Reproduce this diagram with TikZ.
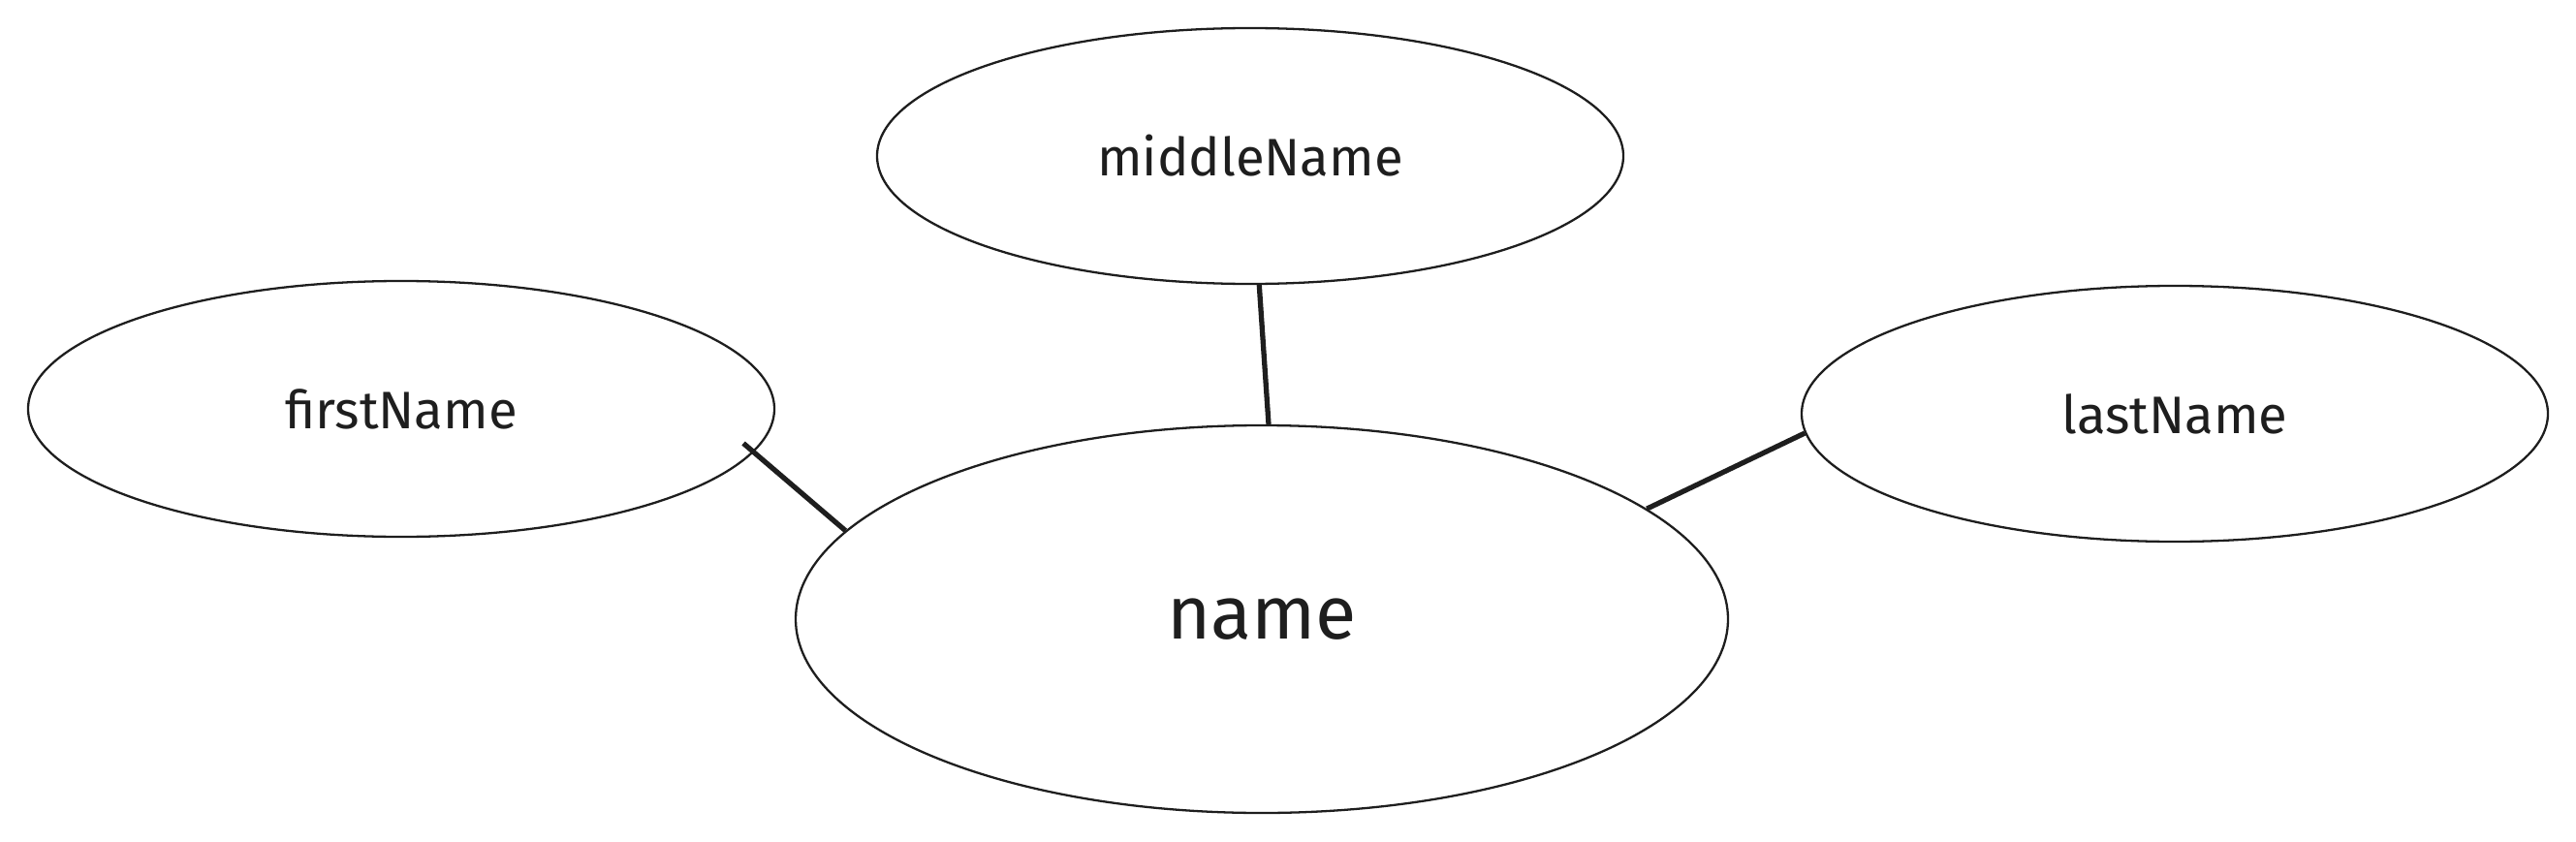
\documentclass[tikz,border=0pt]{standalone}
\usepackage{fontspec}
\setmainfont{Fira Sans}
\usepackage{xcolor}
\usepackage{tikz}
\usetikzlibrary{shapes.geometric}
\definecolor{ink}{HTML}{1E1E1E}

\begin{document}
\begin{tikzpicture}

                % Styles of the attribute ellipses
                \tikzset{
                    attr/.style={ellipse, draw=ink, line width=0.65pt,
                        inner sep=0pt, minimum width=7.7cm,
                        minimum height=2.64cm, text=ink,
                        font=\fontsize{15.5}{18}\selectfont},
                    entity/.style={attr, minimum width=9.62cm,
                        minimum height=4cm,
                        font=\fontsize{22}{26}\selectfont}
                }

                \useasboundingbox (0, 0) rectangle (26.58, 8.68);

                \node[entity] (name) at (13.02, 2.29) {name};
                \node[attr] (middleName) at (12.90, 7.07) {middleName};
                \node[attr] (firstName) at (4.14, 4.46) {firstName};
                \node[attr] (lastName) at (22.44, 4.41) {lastName};

                \begin{scope}[draw=ink, line width=1.5pt]
                    \draw[shorten <=-4pt] (firstName.-7) -- (name.168);
                    \draw (middleName.-86) -- (name.88.5);
                    \draw (lastName.183) -- (name.16);
                \end{scope}

\end{tikzpicture}
\end{document}
